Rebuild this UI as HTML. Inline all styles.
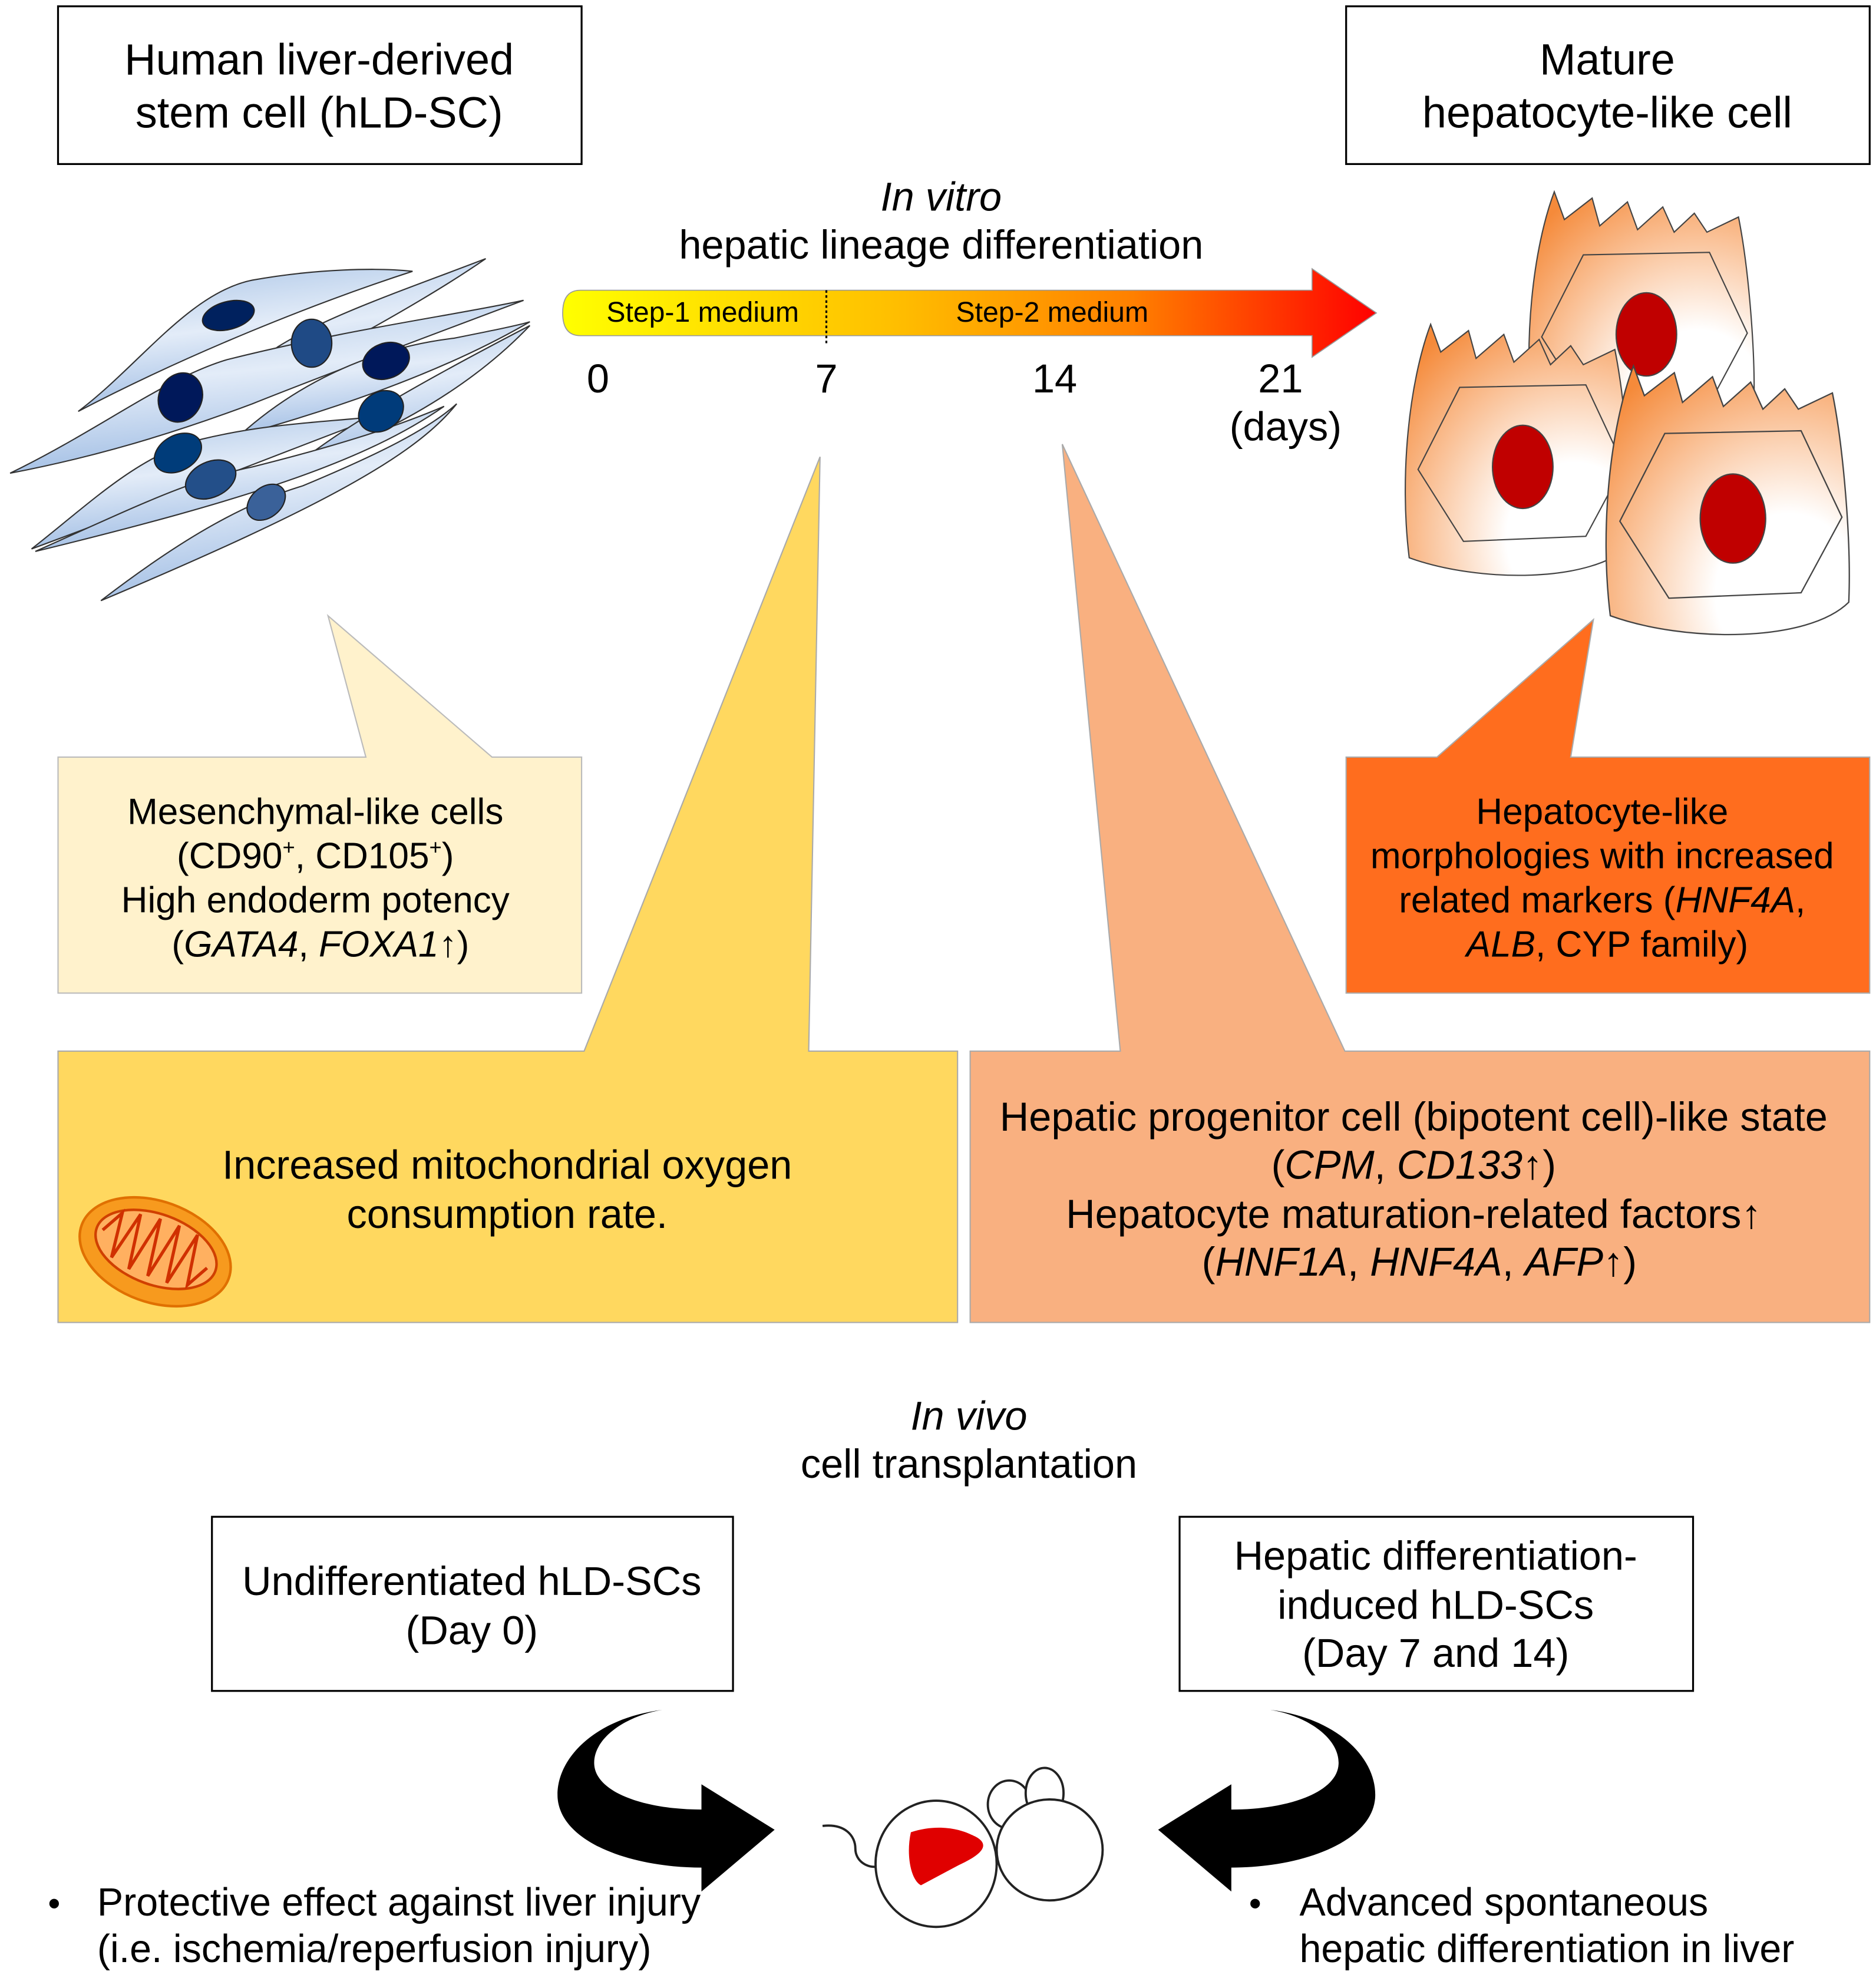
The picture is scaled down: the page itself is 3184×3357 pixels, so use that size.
<!DOCTYPE html>
<html><head><meta charset="utf-8"><style>
html,body{margin:0;padding:0;background:#fff;}
svg{display:block;}
text{font-family:"Liberation Sans",Arial,sans-serif;fill:#000;}
</style></head><body>
<svg width="3184" height="3357" viewBox="0 0 1487 1567.5" preserveAspectRatio="none" xmlns="http://www.w3.org/2000/svg">
<defs>
<linearGradient id="bar" x1="0" x2="1" y1="0" y2="0">
<stop offset="0" stop-color="#ffff00"/><stop offset="0.4" stop-color="#ffc000"/><stop offset="0.7" stop-color="#ff8000"/><stop offset="1" stop-color="#ff0000"/></linearGradient>
<linearGradient id="blue" x1="0" y1="0" x2="0.3" y2="1">
<stop offset="0" stop-color="#a9c4e6"/><stop offset="0.5" stop-color="#e3ecf8"/><stop offset="1" stop-color="#9dbbe3"/></linearGradient>
<radialGradient id="hep" cx="0.75" cy="0.85" r="1">
<stop offset="0" stop-color="#ffffff"/><stop offset="0.3" stop-color="#ffffff"/><stop offset="1" stop-color="#f58a3a"/></radialGradient>
<g id="hcell">
<path d="M5,185 C-3,120 5,45 22,0 L30,22 L52,5 L58,27 L80,8 L88,30 L108,12 L117,32 L133,17 L143,32 L168,20 C176,60 182,130 180,175 C150,205 60,205 5,185 Z" fill="url(#hep)" stroke="#444" stroke-width="1"/>
<polygon points="12,115 45,50 145,48 175,112 145,168 48,172" fill="none" stroke="#444" stroke-width="1"/>
<ellipse cx="95" cy="113" rx="24" ry="33" fill="#c00000" stroke="#444" stroke-width="1"/>
</g>
</defs>

<!-- top boxes -->
<rect x="46" y="5" width="415" height="125" fill="#fff" stroke="#000" stroke-width="1.5"/>
<text x="253" y="59" font-size="34.5" text-anchor="middle">Human liver-derived</text>
<text x="253" y="101" font-size="34.5" text-anchor="middle">stem cell (hLD-SC)</text>
<rect x="1067" y="5" width="415" height="125" fill="#fff" stroke="#000" stroke-width="1.5"/>
<text x="1274" y="59" font-size="34.5" text-anchor="middle">Mature</text>
<text x="1274" y="101" font-size="34.5" text-anchor="middle">hepatocyte-like cell</text>

<!-- in vitro -->
<text x="746" y="167" font-size="32" text-anchor="middle" font-style="italic">In vitro</text>
<text x="746" y="205" font-size="32" text-anchor="middle">hepatic lineage differentiation</text>
<path d="M460,230 L1040,230 L1040,213 L1091,248 L1040,283 L1040,266 L460,266 Q446,266 446,248 Q446,230 460,230 Z" fill="url(#bar)" stroke="#999" stroke-width="0.8"/>
<line x1="655" y1="230" x2="655" y2="272" stroke="#000" stroke-width="1.5" stroke-dasharray="2,2"/>
<text x="557" y="255" font-size="22.5" text-anchor="middle">Step-1  medium</text>
<text x="834" y="255" font-size="22.5" text-anchor="middle">Step-2  medium</text>
<text x="474" y="311" font-size="32" text-anchor="middle">0</text>
<text x="655" y="311" font-size="32" text-anchor="middle">7</text>
<text x="836" y="311" font-size="32" text-anchor="middle">14</text>
<text x="1015" y="311" font-size="32" text-anchor="middle">21</text>
<text x="1019" y="349" font-size="32" text-anchor="middle">(days)</text>

<!-- stem cells -->
<g fill="url(#blue)" stroke="#333" stroke-width="1">
<path d="M62,326 C110,290 150,232 200,222 C250,213 300,212 327,215 C250,240 150,280 62,326 Z"/>
<path d="M385,205 C320,230 260,250 220,275 C185,300 165,330 160,332 C220,300 320,250 385,205 Z"/>
<path d="M8,375 C80,340 130,300 180,285 C280,260 360,250 415,238 C330,270 250,300 200,320 C120,350 60,365 8,375 Z"/>
<path d="M190,345 C240,300 300,275 360,268 C390,262 410,258 420,255 C360,290 280,320 190,345 Z"/>
<path d="M25,435 C70,400 110,360 160,348 C210,336 250,335 300,330 C220,360 120,400 25,435 Z"/>
<path d="M230,372 C270,340 320,310 420,258 C380,300 320,340 230,372 Z"/>
<path d="M28,437 C100,405 150,380 200,370 C260,355 310,340 352,322 C290,365 200,395 28,437 Z"/>
<path d="M80,476 C140,430 190,400 240,385 C300,360 340,340 362,320 C330,360 260,400 80,476 Z"/>
</g>
<g stroke="#222">
<ellipse cx="181" cy="250" rx="21" ry="11" fill="#00215e" transform="rotate(-15 181 250)"/>
<ellipse cx="247" cy="272" rx="16" ry="19" fill="#1f4a85"/>
<ellipse cx="306" cy="286" rx="19" ry="14" fill="#00185a" transform="rotate(-20 306 286)"/>
<ellipse cx="143" cy="315" rx="17" ry="20" fill="#00185a" transform="rotate(25 143 315)"/>
<ellipse cx="302" cy="326" rx="19" ry="15" fill="#003b7a" transform="rotate(-35 302 326)"/>
<ellipse cx="141" cy="359" rx="20" ry="14" fill="#003c7a" transform="rotate(-30 141 359)"/>
<ellipse cx="167" cy="380" rx="21" ry="14" fill="#234f89" transform="rotate(-25 167 380)"/>
<ellipse cx="211" cy="398" rx="17" ry="12" fill="#3a6199" transform="rotate(-40 211 398)"/>
</g>

<!-- hepatocytes -->
<use href="#hcell" transform="translate(1210,152)"/>
<use href="#hcell" transform="translate(1112,257)"/>
<use href="#hcell" transform="translate(1271,290) scale(1.08,1.07)"/>

<!-- callouts -->
<path d="M46,600 L290,600 L260,488 L390,600 L461,600 L461,787 L46,787 Z" fill="#fff2cc" stroke="#bbb" stroke-width="1"/>
<text font-size="29" text-anchor="middle"><tspan x="254" y="653">Mesenchymal-like cells</tspan>
<tspan x="254" y="688">(CD90<tspan font-size="17" dy="-11">+</tspan><tspan dy="11">, CD105</tspan><tspan font-size="17" dy="-11">+</tspan><tspan dy="11">)</tspan></tspan>
<tspan x="254" y="723">High endoderm potency</tspan>
<tspan x="254" y="758">(<tspan font-style="italic">GATA4</tspan>, <tspan font-style="italic">FOXA1</tspan>↑)</tspan></text>

<path d="M1067,600 L1139,600 L1263,491 L1245,600 L1482,600 L1482,787 L1067,787 Z" fill="#ff6d1e" stroke="#aaa" stroke-width="1"/>
<text font-size="29" text-anchor="middle"><tspan x="1274" y="653">Hepatocyte-like</tspan>
<tspan x="1274" y="688">morphologies with increased</tspan>
<tspan x="1274" y="723">related markers (<tspan font-style="italic">HNF4A</tspan>,</tspan>
<tspan x="1274" y="758"><tspan font-style="italic">ALB</tspan>, CYP family)</tspan></text>

<path d="M46,833 L463,833 L650,362 L641,833 L759,833 L759,1048 L46,1048 Z" fill="#ffd85f" stroke="#aaa" stroke-width="1"/>
<text x="402" y="934" font-size="32" text-anchor="middle">Increased mitochondrial oxygen</text>
<text x="402" y="973" font-size="32" text-anchor="middle">consumption rate.</text>
<g transform="rotate(20 123 992)">
<ellipse cx="123" cy="992" rx="62" ry="40" fill="#f79a1e" stroke="#e07000" stroke-width="2"/>
<ellipse cx="123" cy="990" rx="50" ry="28" fill="#ffb060" stroke="#d04000" stroke-width="2"/>
<path d="M78,990 L88,972 L92,1008 L102,968 L108,1012 L118,966 L124,1012 L134,966 L140,1012 L150,968 L156,1008 L166,990" fill="none" stroke="#d03000" stroke-width="2.5"/>
</g>

<path d="M769,833 L888,833 L842,352 L1066,833 L1482,833 L1482,1048 L769,1048 Z" fill="#f9b080" stroke="#aaa" stroke-width="1"/>
<text font-size="32" text-anchor="middle"><tspan x="1125" y="896">Hepatic progenitor cell (bipotent cell)-like state</tspan>
<tspan x="1125" y="934">(<tspan font-style="italic">CPM</tspan>, <tspan font-style="italic">CD133</tspan>↑)</tspan>
<tspan x="1125" y="973">Hepatocyte maturation-related factors↑</tspan>
<tspan x="1125" y="1011">(<tspan font-style="italic">HNF1A</tspan>, <tspan font-style="italic">HNF4A</tspan>, <tspan font-style="italic">AFP</tspan>↑)</tspan></text>

<!-- in vivo -->
<text x="768" y="1133" font-size="32" text-anchor="middle" font-style="italic">In vivo</text>
<text x="768" y="1171" font-size="32" text-anchor="middle">cell transplantation</text>
<rect x="168" y="1202" width="413" height="138" fill="#fff" stroke="#000" stroke-width="1.5"/>
<text x="374" y="1264" font-size="32" text-anchor="middle">Undifferentiated hLD-SCs</text>
<text x="374" y="1303" font-size="32" text-anchor="middle">(Day 0)</text>
<rect x="935" y="1202" width="407" height="138" fill="#fff" stroke="#000" stroke-width="1.5"/>
<text x="1138" y="1244" font-size="32" text-anchor="middle">Hepatic differentiation-</text>
<text x="1138" y="1283" font-size="32" text-anchor="middle">induced hLD-SCs</text>
<text x="1138" y="1321" font-size="32" text-anchor="middle">(Day 7 and 14)</text>

<!-- curved arrows -->
<path d="M525,1355 C470,1362 440,1395 442,1425 C445,1460 500,1480 556,1480 L556,1499 L614,1450 L556,1414 L556,1434 C510,1434 472,1420 471,1398 C470,1378 495,1360 525,1355 Z" fill="#000"/>
<path d="M525,1355 C470,1362 440,1395 442,1425 C445,1460 500,1480 556,1480 L556,1499 L614,1450 L556,1414 L556,1434 C510,1434 472,1420 471,1398 C470,1378 495,1360 525,1355 Z" fill="#000" transform="translate(1532,0) scale(-1,1)"/>

<!-- mouse -->
<g fill="#fff" stroke="#222" stroke-width="1.8">
<path d="M652,1447 C670,1445 678,1455 678,1465 C678,1475 688,1481 696,1479" fill="none"/>
<ellipse cx="742" cy="1477" rx="48" ry="50"/>
<ellipse cx="800" cy="1430" rx="17" ry="19"/>
<ellipse cx="828" cy="1421" rx="15" ry="20"/>
<ellipse cx="832" cy="1466" rx="42" ry="40"/>
</g>
<path d="M722,1452 C740,1446 758,1448 770,1454 C785,1460 782,1468 760,1478 L730,1494 C722,1490 718,1470 722,1452 Z" fill="#e00000"/>

<!-- bullets -->
<text x="38" y="1518" font-size="28">•</text>
<text x="77" y="1518" font-size="31">Protective effect against liver injury</text>
<text x="77" y="1555" font-size="31">(i.e. ischemia/reperfusion injury)</text>
<text x="990" y="1518" font-size="28">•</text>
<text x="1030" y="1518" font-size="31">Advanced spontaneous</text>
<text x="1030" y="1555" font-size="31">hepatic differentiation in liver</text>
</svg>
</body></html>
